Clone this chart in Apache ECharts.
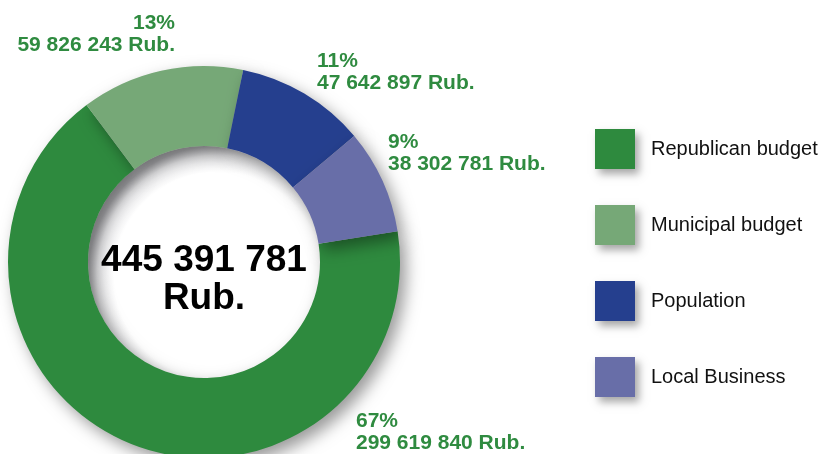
<!DOCTYPE html>
<html lang="en">
<head>
    <meta charset="UTF-8">
    <title>Budget structure</title>
    <script src="https://cdn.jsdelivr.net/npm/echarts@6/dist/echarts.min.js"></script>
    <style>
        html, body { margin: 0; padding: 0; background: #fff; }
    </style>
</head>
<body>
    <div id="main" style="width: 825px; height: 454px;"></div>
    <script>
        // data
        var names = ['Republican budget', 'Municipal budget', 'Population', 'Local Business'];
        var values = [299619840, 59826243, 47642897, 38302781];
        var colors = ['#2e8a3e', '#76a877', '#253f8e', '#686ea8'];
        var totalText = 445391781;

        // where each outside label sits (left/right anchor, top of text box)
        var labelPos = [
            { x: 356, y: 410, align: 'left' },
            { x: 175, y: 12, align: 'right' },
            { x: 317, y: 50, align: 'left' },
            { x: 388, y: 131, align: 'left' }
        ];

        function fmt(v) {
            return String(v).replace(/\B(?=(\d{3})+(?!\d))/g, ' ');
        }

        var pieData = names.map(function (n, i) {
            return { name: n, value: values[i], itemStyle: { color: colors[i] } };
        });

        var myChart = echarts.init(document.getElementById('main'));
        var font = "'Liberation Sans', Arial, sans-serif";

        var option = {
            animation: false,
            legend: {
                data: names,
                orient: 'vertical',
                left: 590,
                top: 124,
                itemWidth: 40,
                itemHeight: 40,
                itemGap: 36,
                icon: 'rect',
                selectedMode: false,
                itemStyle: {
                    shadowBlur: 8,
                    shadowColor: 'rgba(0,0,0,0.35)',
                    shadowOffsetX: 4,
                    shadowOffsetY: 5
                },
                textStyle: {
                    fontFamily: font,
                    fontSize: 20,
                    color: '#111',
                    padding: [0, 0, 0, 11]
                }
            },
            series: [
                {
                    // the hole, carries the total
                    type: 'pie',
                    silent: true,
                    z: 1,
                    center: [204, 262],
                    radius: [0, 116],
                    label: {
                        show: true,
                        position: 'center',
                        offset: [0, 18],
                        formatter: fmt(totalText) + '\nRub.',
                        fontFamily: font,
                        fontWeight: 'bold',
                        fontSize: 37,
                        lineHeight: 38,
                        color: '#000'
                    },
                    labelLine: { show: false },
                    itemStyle: {
                        color: {
                            type: 'radial', x: 0.56, y: 0.56, r: 0.56,
                            colorStops: [
                                { offset: 0, color: '#fff' },
                                { offset: 0.8, color: '#fff' },
                                { offset: 0.93, color: '#e4e4e6' },
                                { offset: 1, color: '#b9b9bd' }
                            ]
                        }
                    },
                    data: [{ name: 'total', value: 1 }]
                },
                {
                    type: 'pie',
                    silent: true,
                    z: 2,
                    center: [204, 262],
                    radius: [116, 196],
                    startAngle: 9,
                    clockwise: true,
                    itemStyle: {
                        shadowBlur: 16,
                        shadowColor: 'rgba(0,0,0,0.4)',
                        shadowOffsetX: 6,
                        shadowOffsetY: 7
                    },
                    label: {
                        show: true,
                        position: 'outside',
                        overflow: 'none',
                        fontFamily: font,
                        fontWeight: 'bold',
                        fontSize: 21,
                        lineHeight: 22,
                        color: '#2f8b40',
                        formatter: function (p) {
                            return Math.round(p.percent) + '%\n' + fmt(p.value) + ' Rub.';
                        }
                    },
                    labelLine: { show: false },
                    labelLayout: function (params) {
                        var lp = labelPos[params.dataIndex];
                        return { x: lp.x, y: lp.y, align: lp.align, verticalAlign: 'top' };
                    },
                    data: pieData
                }
            ]
        };

        myChart.setOption(option);
    </script>
</body>
</html>
